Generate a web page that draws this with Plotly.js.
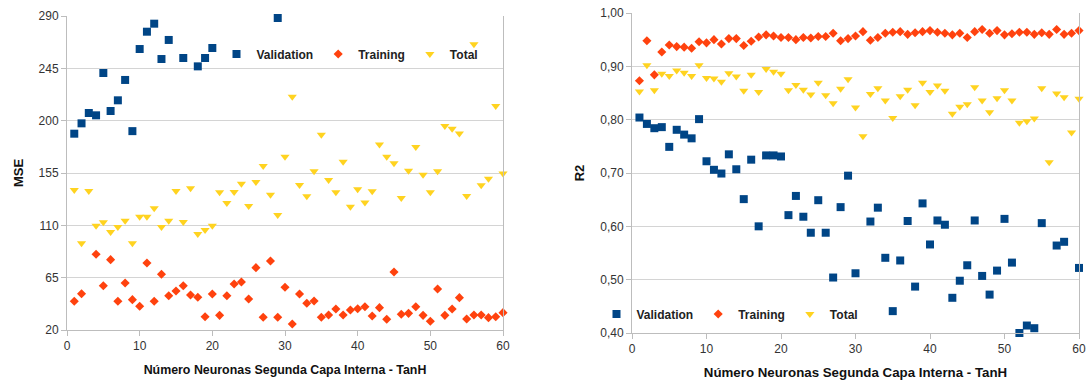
<!DOCTYPE html>
<html>
<head>
<meta charset="utf-8">
<script src="https://cdn.plot.ly/plotly-3.0.1.min.js"></script>
<style>html,body{margin:0;padding:0;background:#fff;}#chart{width:1089px;height:387px;}</style>
</head>
<body>
<div id="chart"></div>
<script>
const neurons = [1,2,3,4,5,6,7,8,9,10,11,12,13,14,15,16,17,18,19,20,21,22,23,24,25,26,27,28,29,30,
  31,32,33,34,35,36,37,38,39,40,41,42,43,44,45,46,47,48,49,50,51,52,53,54,55,56,57,58,59,60];

const mseValidation = [188.8,197.7,206.6,204.6,241,208.3,217.5,235,191,261.6,276.5,283.4,253,269.4,null,253.9,null,246.7,253.9,262.5,
  null,null,null,null,null,null,null,null,288.3,null,
  null,null,null,null,null,null,null,null,null,null,null,null,null,null,null,null,null,null,null,null,
  null,null,null,null,null,null,null,null,null,null];
const mseTraining = [44.7,51.2,null,85.1,58.1,80.5,44.7,60.4,46.1,40.4,77.6,44.7,67.9,49.5,53.5,58.1,50.1,48.1,31.4,51,
  32.6,49.5,59.6,61.3,46.7,73.6,30.9,79.3,30.9,56.7,25.2,51,43,45,30.9,32.9,38,32.9,37.2,38.3,
  40,32,39.2,29.2,69.9,33.5,34.3,40,32.6,27.5,55.3,32.6,38,47.8,29.5,32.9,32.9,30.6,31.4,34.9];
const mseTotal = [140.4,94.5,139.5,109.7,112.6,104.3,108.6,114,94.5,117.4,117.4,124.6,108.6,114,139.5,112.9,141.8,102.5,106,109.7,
  138.4,129.2,138.7,145.8,126.6,147.3,161,136.4,118.9,169,220.6,144.7,135,156.5,187.9,149,138.4,164.7,126,141,
  129.7,139.2,179.6,169,163.3,133.6,157,177.4,153.6,138.5,156.5,195.4,193,189,135.2,265.7,144.4,150.1,212.6,154.5];

const r2Validation = [0.804,0.792,0.784,0.786,0.749,0.781,0.772,0.765,0.801,0.722,0.706,0.699,0.735,0.707,0.651,0.725,0.600,0.733,0.733,0.731,
  0.621,0.657,0.618,0.588,0.649,0.588,0.504,0.636,0.695,0.512,null,0.609,0.635,0.541,0.441,0.536,0.610,0.487,0.643,0.566,
  0.611,0.603,0.466,0.498,0.527,0.611,0.507,0.472,0.517,0.614,0.532,0.400,0.414,0.409,0.606,null,0.564,0.571,null,0.522];
const r2Training = [0.873,0.948,0.884,0.927,0.940,0.937,0.936,0.934,0.946,0.944,0.950,0.942,0.952,0.952,0.939,0.947,0.955,0.959,0.957,0.954,
  0.954,0.950,0.954,0.953,0.956,0.956,0.962,0.948,0.952,0.957,0.965,0.949,0.954,0.962,0.964,0.965,0.960,0.963,0.965,0.967,
  0.964,0.962,0.959,0.962,0.954,0.965,0.969,0.962,0.967,0.959,0.961,0.964,0.964,0.960,0.963,0.960,0.969,0.960,0.962,0.967];
const r2Total = [0.853,0.902,0.855,0.886,0.882,0.892,0.888,0.882,0.902,0.878,0.877,0.871,0.887,0.881,0.854,0.884,0.852,0.895,0.890,0.886,
  0.855,0.865,0.856,0.847,0.869,0.846,0.831,0.858,0.876,0.823,0.769,0.848,0.859,0.836,0.803,0.844,0.856,0.827,0.869,0.852,
  0.864,0.854,0.811,0.824,0.829,0.861,0.836,0.814,0.840,0.855,0.836,0.794,0.797,0.802,0.859,0.720,0.849,0.842,0.776,0.839];

const xTickVals = [0,10,20,30,40,50,60];
const mseTickVals = [20,65,110,155,200,245,290];
const r2TickVals = [0.4,0.5,0.6,0.7,0.8,0.9,1.0];
const xTitle = 'Número Neuronas Segunda Capa Interna - TanH';

const colors = {Validation:'#004586', Training:'#ff420e', Total:'#ffd320'};
const symbols = {Validation:'square', Training:'diamond', Total:'triangle-down'};
const sizes = {Validation:8, Training:7, Total:8};

function mk(name, y, xa, ya, leg) {
  return {x: neurons, y: y, name: name, type:'scatter', mode:'markers', xaxis: xa, yaxis: ya,
    legend: leg, cliponaxis:false,
    marker:{symbol: symbols[name], color: colors[name], size: sizes[name], line:{width:0}}};
}

const traces = [
  mk('Validation', mseValidation, 'x', 'y', 'legend'),
  mk('Training', mseTraining, 'x', 'y', 'legend'),
  mk('Total', mseTotal, 'x', 'y', 'legend'),
  mk('Validation', r2Validation, 'x2', 'y2', 'legend2'),
  mk('Training', r2Training, 'x2', 'y2', 'legend2'),
  mk('Total', r2Total, 'x2', 'y2', 'legend2')
];

const FAM = 'Liberation Sans, Arial, sans-serif';
const tickFont = {family: FAM, size:12, color:'#333'};
const gridC = '#d4d4d4', lineC = '#bdbdbd';

function xaxisDef(dom, anchor, fs) {
  return {domain: dom, anchor: anchor, range:[0,60], tickvals: xTickVals, ticks:'outside', ticklen:5,
    tickcolor: lineC, showline:true, linecolor: lineC, linewidth:1, showgrid:false, zeroline:false,
    tickfont: tickFont, title:{text: xTitle, font:{family: FAM, size: fs, color:'#111', weight:700}, standoff: 12}};
}
function yaxisDef(dom, anchor, range, vals, fmt, title) {
  return {domain: dom, anchor: anchor, range: range, tickvals: vals, tickformat: fmt, ticks:'outside', ticklen:5,
    tickcolor: lineC, showline:true, mirror:true, linecolor: lineC, linewidth:1, showgrid:true, gridcolor: gridC,
    zeroline:false, tickfont: tickFont, title:{text: title, font:{family: FAM, size:13, color:'#111', weight:700}, standoff: 12}};
}

const legFont = {family: FAM, size:12, color:'#222', weight:700};
const layout = {
  width:1089, height:387, autosize:false,
  margin:{l:0, r:0, t:0, b:0},
  paper_bgcolor:'#fff', plot_bgcolor:'#fff',
  separators: ',.',
  showlegend:true,
  xaxis: xaxisDef([67/1089, 503/1089], 'y', 12.4),
  yaxis: yaxisDef([1-330/387, 1-16/387], 'x', [20,290], mseTickVals, '', 'MSE'),
  xaxis2: xaxisDef([632/1089, 1079/1089], 'y2', 13.3),
  yaxis2: yaxisDef([1-333/387, 1-13/387], 'x2', [0.4,1.0], r2TickVals, '.2f', 'R2'),
  legend: {orientation:'h', x: 350/1089, xanchor:'center', y: 1-54/387, yanchor:'middle',
    font: legFont, bgcolor:'rgba(0,0,0,0)', itemwidth:30, tracegroupgap:0},
  legend2: {orientation:'h', x: 730/1089, xanchor:'center', y: 1-314/387, yanchor:'middle',
    font: legFont, bgcolor:'rgba(0,0,0,0)', itemwidth:30, tracegroupgap:0}
};

Plotly.newPlot('chart', traces, layout, {displayModeBar:false, responsive:false});
</script>
</body>
</html>
